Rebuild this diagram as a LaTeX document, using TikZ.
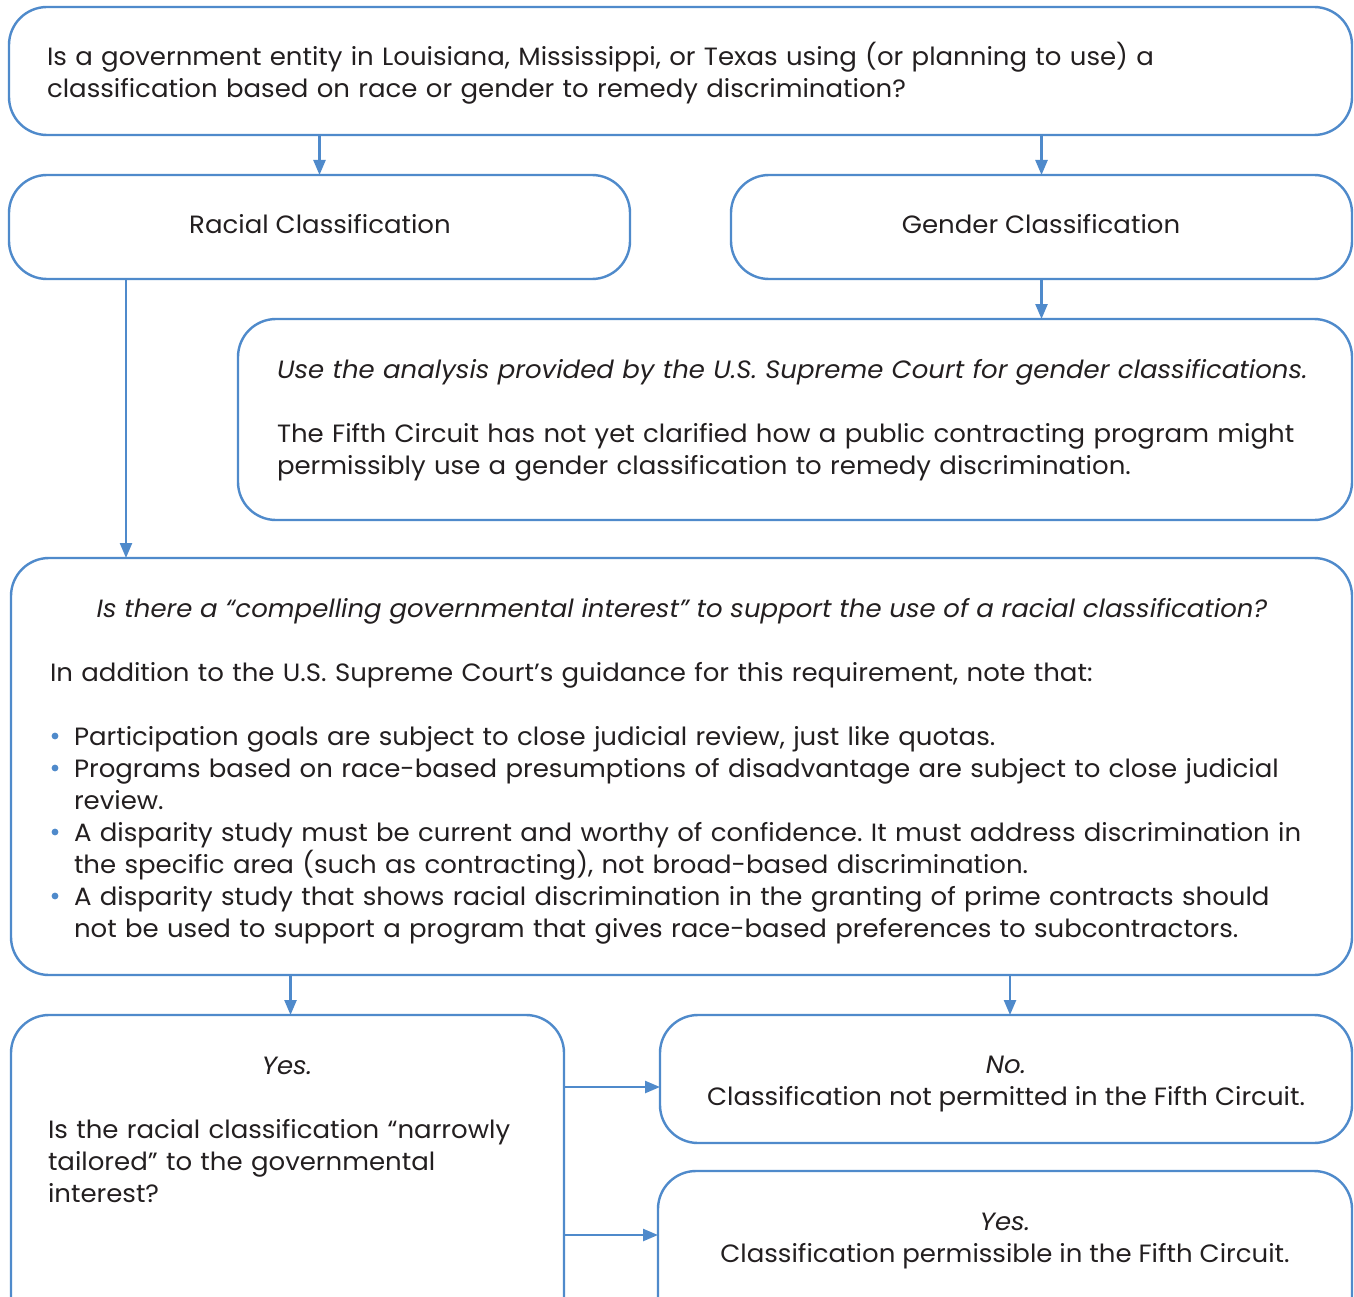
\documentclass[tikz,border=0pt]{standalone}
\usepackage{fontspec}
\setmainfont[FakeStretch=1.04]{Poppins}
\usetikzlibrary{arrows.meta,calc}
\definecolor{flowblue}{HTML}{4F8ACB}
\definecolor{inkgray}{HTML}{231F20}
\frenchspacing
\tikzset{
  box/.style={draw=flowblue, line width=2.4pt, rounded corners=38pt, inner sep=0pt, outer sep=0pt},
  arr/.style={draw=flowblue, line width=2.4pt, -{Triangle[length=15pt,width=12pt]}},
  txt/.style={inner sep=0pt, outer sep=0pt, text=inkgray, font=\fontsize{25}{32}\selectfont},
  para/.style={txt, anchor=base west, align=left, text width=#1},
  ctr/.style={txt, anchor=base},
  dot/.style={fill=flowblue}
}
\begin{document}
\begin{tikzpicture}[x=1pt,y=-1pt]
\clip (0,0) rectangle (1354,1297);
\fill[white] (0,0) rectangle (1354,1297);

% boxes
\node[box, minimum width=1343, minimum height=128] (top) at (680.5,71) {};
\node[box, minimum width=621, minimum height=104] (racial) at (319.5,227) {};
\node[box, minimum width=621, minimum height=104] (gender) at (1041.5,227) {};
\node[box, minimum width=1114, minimum height=201] (analysis) at (795,419.5) {};
\node[box, minimum width=1341, minimum height=417] (compelling) at (681.5,766.5) {};
\node[box, minimum width=553, minimum height=325] (yes) at (287.5,1177.5) {};
\node[box, minimum width=692, minimum height=128] (no) at (1006,1079) {};
\node[box, minimum width=694, minimum height=164] (yestwo) at (1005,1253) {};

% texts
\node[para=1290pt] (topq) at (47,66) {Is a government entity in Louisiana, Mississippi, or Texas using (or planning to use) a\\classification based on race or gender to remedy discrimination?};
\node[ctr] (racialt) at (320,234) {Racial Classification};
\node[ctr] (gendert) at (1041,234) {Gender Classification};
\node[para=1070pt] (anaone) at (277,378) {\itshape Use the analysis provided by the U.S. Supreme Court for gender classifications.};
\node[para=1070pt] (anatwo) at (277,442) {The Fifth Circuit has not yet clarified how a public contracting program might\\permissibly use a gender classification to remedy discrimination.};
\node[ctr] (cq) at (682,617) {\itshape Is there a \textquotedblleft compelling governmental interest\textquotedblright\ to support the use of a racial classification?};
\node[para=1290pt] (cnote) at (50,681) {In addition to the U.S. Supreme Court\textquoteright s guidance for this requirement, note that:};
\node[para=1270pt] (bone) at (74,745) {Participation goals are subject to close judicial review, just like quotas.};
\node[para=1270pt] (btwo) at (74,777) {Programs based on race-based presumptions of disadvantage are subject to close judicial\\review.};
\node[para=1270pt] (bthree) at (74,841) {A disparity study must be current and worthy of confidence. It must address discrimination in\\the specific area (such as contracting), not broad-based discrimination.};
\node[para=1270pt] (bfour) at (74,905) {A disparity study that shows racial discrimination in the granting of prime contracts should\\not be used to support a program that gives race-based preferences to subcontractors.};
\foreach \by in {736,768,832,896} \fill[dot] (55,\by) circle (3.4);

\node[ctr] (yeshead) at (287,1074) {\itshape Yes.};
\node[para=505pt] (yesq) at (48,1138) {Is the racial classification \textquotedblleft narrowly\\tailored\textquotedblright\ to the governmental\\interest?};
\node[ctr] (nohead) at (1006,1073) {\itshape No.};
\node[ctr] (nobody) at (1006,1105) {Classification not permitted in the Fifth Circuit.};
\node[ctr] (ytwohead) at (1005,1230) {\itshape Yes.};
\node[ctr] (ytwobody) at (1005,1262) {Classification permissible in the Fifth Circuit.};

% connectors
\draw[arr] (top.south -| racial.north) -- (racial.north);
\draw[arr] (top.south -| gender.north) -- (gender.north);
\draw[arr] (gender.south) -- (gender.south |- analysis.north);
\path (racial.south west) ++(117,0) coordinate (racialout);
\draw[arr] (racialout) -- (racialout |- compelling.north);
\path (yes.north) ++(3,0) coordinate (yesin);
\draw[arr] (compelling.south -| yesin) -- (yesin);
\path (no.north) ++(4,0) coordinate (noup);
\draw[arr] (compelling.south -| noup) -- (noup);
\path (no.west) ++(0,8) coordinate (noin);
\draw[arr] (yes.east |- noin) -- (noin);
\path (yestwo.west) ++(0,-18) coordinate (yestwoin);
\draw[arr] (yes.east |- yestwoin) -- (yestwoin);
\end{tikzpicture}
\end{document}
